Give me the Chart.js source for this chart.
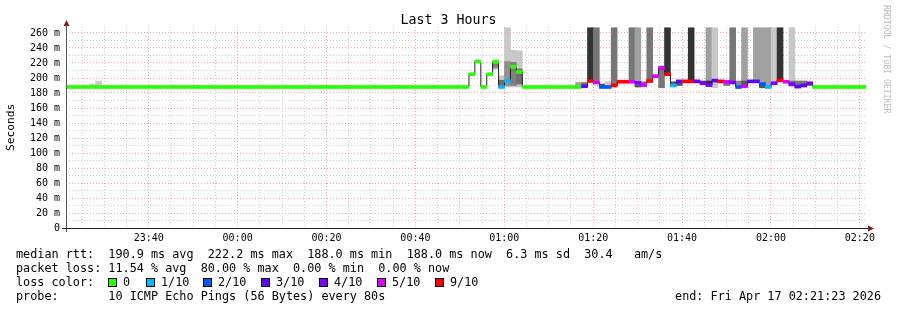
<!DOCTYPE html>
<html>
<head>
<meta charset="utf-8">
<title>Last 3 Hours</title>
<script src="https://cdn.jsdelivr.net/npm/chart.js@4.4.1/dist/chart.umd.min.js"></script>
<style>
  body { margin: 0; background: #fff; }
  #wrap { position: relative; width: 897px; height: 310px; font-family: "DejaVu Sans Mono", monospace; color: #000; overflow: hidden; }
  #chart { position: absolute; left: 0; top: 0; }
  .t { position: absolute; white-space: pre; font-size: 11.8px; line-height: 14px; }
  #title { position: absolute; left: 0; width: 897px; top: 12px; text-align: center; font-size: 13.3px; line-height: 16px; }
  #ytitle { position: absolute; left: 5px; top: 102px; height: 50px; writing-mode: vertical-rl; transform: rotate(180deg); font-size: 11.2px; line-height: 12px; text-align: center; white-space: nowrap; color: #000; }
  #credit { position: absolute; left: 883px; top: 5px; writing-mode: vertical-rl; font-size: 8.2px; line-height: 8px; color: #bbb; white-space: nowrap; }
  .sw { position: absolute; width: 7px; height: 7px; border: 1px solid #000; top: 278px; }
</style>
</head>
<body>
<div id="wrap">
  <canvas id="chart" width="897" height="310"></canvas>
  <div id="title">Last 3 Hours</div>
  <div id="ytitle">Seconds</div>
  <div id="credit">RRDTOOL / TOBI OETIKER</div>
  <div class="t" style="left:16px;top:247px">median rtt:  190.9 ms avg  222.2 ms max  188.0 ms min  188.0 ms now  6.3 ms sd  30.4   am/s</div>
  <div class="t" style="left:16px;top:261px">packet loss: 11.54 % avg  80.00 % max  0.00 % min  0.00 % now</div>
  <div class="t" style="left:16px;top:275px">loss color:</div>
  <div id="legend"></div>
  <div class="t" style="left:16px;top:289px">probe:       10 ICMP Echo Pings (56 Bytes) every 80s</div>
  <div class="t" style="right:16px;top:289px">end: Fri Apr 17 02:21:23 2026</div>
</div>
<script>
// time axis in minutes after 23:00, one sample every 80 s starting 23:21:23
const tStart = 21 + 23 / 60;
const stepMin = 80 / 60;
const tEnd = tStart + 180;

const xMajorTicks = [40, 60, 80, 100, 120, 140, 160, 180, 200];
const xTickLabels = ['23:40', '00:00', '00:20', '00:40', '01:00', '01:20', '01:40', '02:00', '02:20'];
const yTickValues = [0, 20, 40, 60, 80, 100, 120, 140, 160, 180, 200, 220, 240, 260];
const yTickLabels = ['0', '20 m', '40 m', '60 m', '80 m', '100 m', '120 m', '140 m', '160 m', '180 m', '200 m', '220 m', '240 m', '260 m'];
const yMinorTicks = [10, 30, 50, 70, 90, 110, 130, 150, 170, 190, 210, 230, 250];

// median rtt (ms) per sample
const median = [
  188, 188, 188, 188, 188, 188, 188, 188, 188, 188, 188, 188, 188, 188, 188, 188, 188,
  188, 188, 188, 188, 188, 188, 188, 188, 188, 188, 188, 188, 188, 188, 188, 188, 188,
  188, 188, 188, 188, 188, 188, 188, 188, 188, 188, 188, 188, 188, 188, 188, 188, 188,
  188, 188, 188, 188, 188, 188, 188, 188, 188, 188, 188, 188, 188, 188, 188, 188, 188,
  205, 222, 188, 205, 222, 188, 196, 215, 208,
  188, 188, 188, 188, 188, 188, 188, 188, 188, 188,
  189, 196, 194, 188, 188, 190, 195, 195, 195, 193.5, 190.5, 196, 202.5, 213, 205,
  190, 195.5, 195.5, 195.5, 195.5, 193, 190.5, 196.5, 195.5, 195, 194, 188, 189,
  195.5, 195.5, 192, 188, 193, 197, 195, 192, 188.5, 190, 193,
  188, 188, 188, 188, 188, 188, 188, 188, 188
];
// lost pings out of 10 per sample (sets the median colour)
const loss = [
  0, 0, 0, 0, 0, 0, 0, 0, 0, 0, 0, 0, 0, 0, 0, 0, 0,
  0, 0, 0, 0, 0, 0, 0, 0, 0, 0, 0, 0, 0, 0, 0, 0, 0,
  0, 0, 0, 0, 0, 0, 0, 0, 0, 0, 0, 0, 0, 0, 0, 0, 0,
  0, 0, 0, 0, 0, 0, 0, 0, 0, 0, 0, 0, 0, 0, 0, 0, 0,
  0, 0, 0, 0, 0, 1, 1, 0, 0,
  0, 0, 0, 0, 0, 0, 0, 0, 0, 0,
  3, 9, 5, 2, 2, 9, 9, 9, 5, 4, 5, 9, 5, 5, 9,
  1, 3, 9, 9, 3, 4, 4, 3, 9, 5, 4, 2, 5,
  3, 3, 2, 1, 4, 9, 5, 4, 3, 3, 4,
  0, 0, 0, 0, 0, 0, 0, 0, 0
];

// smoke (spread of the pings), outer layer
const smokeIdx = [4, 5, 72, 73, 74, 75, 76, 86, 87, 88, 89, 90, 91, 92, 95, 96, 97, 98, 100, 101,
  102, 103, 105, 107, 108, 109, 111, 112, 113, 114, 116, 117, 118, 119, 120, 122, 123, 124, 125];
const smokeLo = [188, 188, 212, 187, 188, 188, 188, 188, 189, 196, 194, 189, 190, 190, 195, 193, 190, 196, 187, 205,
  190, 190, 195, 193, 190, 187, 190, 194, 190, 189, 195, 187, 188, 193, 197, 188, 188, 190, 190];
const smokeHi = [192, 196, 221, 203, 267, 237, 236, 194, 194, 267, 267, 192, 195, 267, 267, 267, 195, 267, 216, 267,
  195, 195, 267, 196, 267, 267, 195, 267, 196, 267, 267, 267, 267, 267, 267, 267, 196, 196, 194];
const smokeShade = ['#c8c8c8', '#c8c8c8', '#b4b4b4', '#c8c8c8', '#c8c8c8', '#c8c8c8', '#c8c8c8', '#a0a0a0', '#777777',
  '#333333', '#777777', '#555555', '#c8c8c8', '#777777', '#777777', '#a0a0a0', '#777777', '#777777', '#777777',
  '#333333', '#555555', '#555555', '#333333', '#555555', '#a0a0a0', '#c8c8c8', '#777777', '#777777', '#888888',
  '#a0a0a0', '#a0a0a0', '#a0a0a0', '#a0a0a0', '#c8c8c8', '#333333', '#c8c8c8', '#777777', '#777777', '#777777'];

// smoke, inner (denser) layer
const coreIdx = [72, 73, 74, 75, 76, 96, 108, 114, 117, 122];
const coreLo = [214, 188, 190, 190, 192, 188, 191, 191, 187, 190];
const coreHi = [219, 197, 222, 221, 212, 191, 196, 196, 190, 196];
const coreShade = ['#808080', '#707070', '#909090', '#808080', '#707070', '#555555', '#333333', '#555555', '#555555', '#777777'];

const lossColors = { 0: '#26ff00', 1: '#00b8ff', 2: '#0059ff', 3: '#5e00ff', 4: '#7e00ff', 5: '#dd00ff', 9: '#ff0000' };
const legendNames = ['0', '1/10', '2/10', '3/10', '4/10', '5/10', '9/10'];
const legendKeys = [0, 1, 2, 3, 4, 5, 9];
const legendX = [108, 146, 203, 261, 319, 377, 435];

const legend = document.getElementById('legend');
legendKeys.forEach((k, i) => {
  const sw = document.createElement('div');
  sw.className = 'sw';
  sw.style.left = legendX[i] + 'px';
  sw.style.background = lossColors[k];
  legend.appendChild(sw);
  const tx = document.createElement('div');
  tx.className = 't';
  tx.style.left = (legendX[i] + 15) + 'px';
  tx.style.top = '275px';
  tx.textContent = legendNames[i];
  legend.appendChild(tx);
});

const xAt = (i) => tStart + (i + 0.5) * stepMin;

const majorGrid = 'rgba(240, 110, 110, 0.6)';
const minorGrid = 'rgba(160, 160, 160, 0.5)';

const axisArrows = {
  id: 'axisArrows',
  afterDraw(chart) {
    const { ctx, chartArea: a } = chart;
    ctx.save();
    ctx.lineWidth = 1;
    ctx.strokeStyle = '#555';
    ctx.beginPath();
    ctx.moveTo(a.left + 0.5, a.bottom + 4);
    ctx.lineTo(a.left + 0.5, a.top - 3);
    ctx.stroke();
    ctx.strokeStyle = '#222';
    ctx.beginPath();
    ctx.moveTo(a.left - 4, a.bottom + 0.5);
    ctx.lineTo(a.right + 4, a.bottom + 0.5);
    ctx.stroke();
    ctx.fillStyle = '#8b1a1a';
    ctx.beginPath();
    ctx.moveTo(a.left + 0.5, a.top - 7);
    ctx.lineTo(a.left - 2.5, a.top - 1);
    ctx.lineTo(a.left + 3.5, a.top - 1);
    ctx.closePath();
    ctx.fill();
    ctx.beginPath();
    ctx.moveTo(a.right + 8, a.bottom + 0.5);
    ctx.lineTo(a.right + 2, a.bottom - 2.5);
    ctx.lineTo(a.right + 2, a.bottom + 3.5);
    ctx.closePath();
    ctx.fill();
    ctx.restore();
  }
};

const barCommon = { grouped: false, barPercentage: 1, categoryPercentage: 1, borderWidth: 0 };

new Chart(document.getElementById('chart'), {
  type: 'bar',
  data: {
    datasets: [
      {
        ...barCommon,
        order: 0,
        data: median.map((m, i) => ({ x: xAt(i), y: [m - 2, m + 2] })),
        backgroundColor: loss.map((l) => lossColors[l]),
      },
      {
        type: 'line',
        order: 1,
        data: median.map((m, i) => ({ x: xAt(i), y: m })),
        stepped: 'middle',
        borderColor: '#202020',
        borderWidth: 1,
        pointRadius: 0,
        fill: false,
      },
      {
        ...barCommon,
        order: 2,
        data: coreIdx.map((s, k) => ({ x: xAt(s), y: [coreLo[k], coreHi[k]] })),
        backgroundColor: coreShade,
      },
      {
        ...barCommon,
        order: 3,
        data: smokeIdx.map((s, k) => ({ x: xAt(s), y: [smokeLo[k], smokeHi[k]] })),
        backgroundColor: smokeShade,
      },
    ],
  },
  options: {
    responsive: false,
    animation: false,
    devicePixelRatio: 1,
    layout: { padding: { left: 0, right: 31, top: 27, bottom: 62 } },
    plugins: { legend: { display: false }, tooltip: { enabled: false } },
    scales: {
      x: {
        type: 'linear',
        min: tStart,
        max: tEnd,
        offset: false,
        afterFit: (s) => { s.height = 20; },
        afterBuildTicks: (s) => {
          const t = [];
          for (let m = 25; m <= 200; m += 5) t.push({ value: m });
          s.ticks = t;
        },
        ticks: {
          autoSkip: false,
          maxRotation: 0,
          padding: 4,
          color: '#000',
          font: { family: 'DejaVu Sans Mono', size: 10 },
          callback: (v) => {
            const k = xMajorTicks.indexOf(v);
            return k >= 0 ? xTickLabels[k] : '';
          },
        },
        grid: {
          offset: false,
          drawTicks: false,
          color: (c) => (c.tick && xMajorTicks.includes(c.tick.value) ? majorGrid : minorGrid),
          borderDash: [1, 2],
        },
        border: { display: false, dash: [1, 2] },
      },
      y: {
        min: 0,
        max: 268,
        afterFit: (s) => { s.width = 66; },
        afterBuildTicks: (s) => {
          s.ticks = yTickValues.concat(yMinorTicks).sort((a, b) => a - b).map((v) => ({ value: v }));
        },
        ticks: {
          autoSkip: false,
          padding: 6,
          color: '#000',
          font: { family: 'DejaVu Sans Mono', size: 10 },
          callback: (v) => {
            const k = yTickValues.indexOf(v);
            return k >= 0 ? yTickLabels[k] : '';
          },
        },
        grid: {
          drawTicks: false,
          color: (c) => {
            if (!c.tick || c.tick.value === 0) return 'rgba(0,0,0,0)';
            return yTickValues.includes(c.tick.value) ? majorGrid : minorGrid;
          },
          borderDash: [1, 2],
        },
        border: { display: false, dash: [1, 2] },
      },
    },
  },
  plugins: [axisArrows],
});
</script>
</body>
</html>
